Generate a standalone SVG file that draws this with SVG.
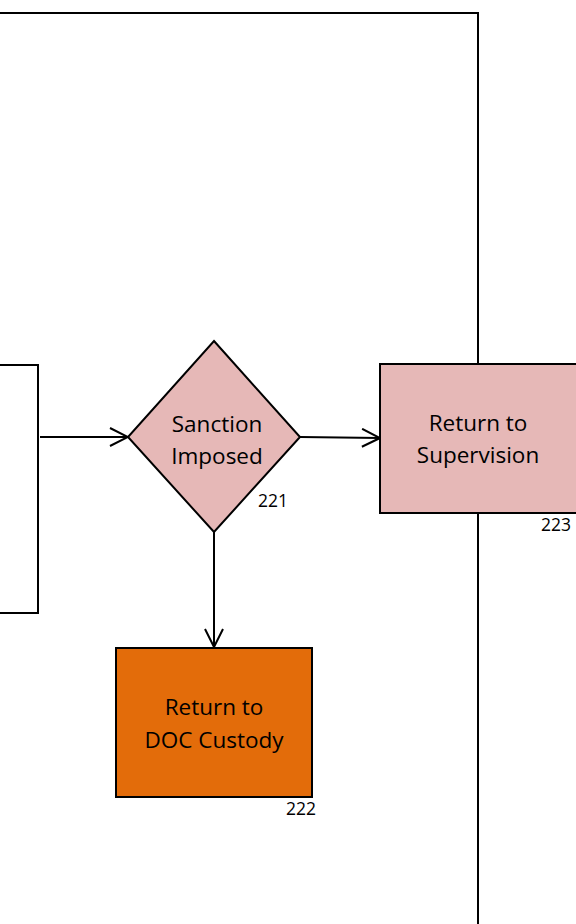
<svg xmlns="http://www.w3.org/2000/svg" width="576" height="924" viewBox="0 0 576 924">
  <style>
    .frame { fill: none; stroke: #000; stroke-width: 2; }
    .shape { stroke: #000; stroke-width: 2; }
    .pink { fill: #e6b8b7; }
    .orange { fill: #e36c0a; }
    .label { font-family: "Open Sans", "Liberation Sans", sans-serif; font-size: 22.5px; fill: #000; text-anchor: middle; }
    .num { font-family: "Open Sans", "Liberation Sans", sans-serif; font-size: 17.5px; fill: #000; text-anchor: end; }
    .conn { fill: none; stroke: #000; stroke-width: 2; }
  </style>
  <defs>
    <marker id="open" viewBox="0 0 20 20" refX="19" refY="10" markerWidth="20" markerHeight="20" markerUnits="userSpaceOnUse" orient="auto">
      <path d="M1,1 L19,10 L1,19" fill="none" stroke="#000" stroke-width="2"/>
    </marker>
  </defs>

  <!-- outer lane frame -->
  <g id="lane">
    <polyline class="frame" points="0,13 478,13 478,924"/>
  </g>

  <!-- preceding step (partially visible) -->
  <g id="prev-step">
    <polyline class="frame" points="0,365 38,365 38,613 0,613"/>
  </g>

  <g id="connectors">
    <line class="conn" x1="40" y1="437" x2="128" y2="437" marker-end="url(#open)"/>
    <line class="conn" x1="300" y1="437" x2="380" y2="438" marker-end="url(#open)"/>
    <line class="conn" x1="214" y1="532" x2="214" y2="647" marker-end="url(#open)"/>
  </g>

  <g id="n221">
    <polygon class="shape pink" points="214,341 300,437 214,532 128,437"/>
    <text class="label" x="217" y="432">Sanction</text>
    <text class="label" x="217" y="464">Imposed</text>
    <text class="num" x="288" y="507">221</text>
  </g>

  <g id="n223">
    <rect class="shape pink" x="380" y="364" width="198" height="149"/>
    <text class="label" x="478" y="431">Return to</text>
    <text class="label" x="478" y="463">Supervision</text>
    <text class="num" x="571" y="531">223</text>
  </g>

  <g id="n222">
    <rect class="shape orange" x="116" y="648" width="196" height="149"/>
    <text class="label" x="214" y="715">Return to</text>
    <text class="label" x="214" y="748">DOC Custody</text>
    <text class="num" x="316" y="815">222</text>
  </g>
</svg>
